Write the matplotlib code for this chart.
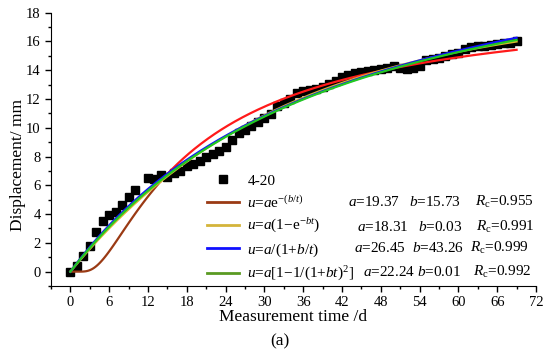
import numpy as np
import matplotlib
matplotlib.use("Agg")
import matplotlib.pyplot as plt
from matplotlib.lines import Line2D
from matplotlib.ticker import MultipleLocator

plt.rcParams['font.family'] = ['Liberation Serif', 'DejaVu Serif']
plt.rcParams['mathtext.fontset'] = 'custom'
plt.rcParams['mathtext.rm'] = 'Liberation Serif'
plt.rcParams['mathtext.it'] = 'Liberation Serif:italic'
plt.rcParams['mathtext.bf'] = 'Liberation Serif:bold'

# measured displacement, monitoring point 4-20 (no reading on day 11)
days = list(range(0, 11)) + list(range(12, 70))
disp = [0, 0.42, 1.1, 1.81, 2.78, 3.5, 3.95, 4.15, 4.65, 5.2, 5.67,
        6.5, 6.42, 6.73, 6.57, 6.85, 7.0, 7.32, 7.45, 7.72, 7.98,
        8.2, 8.42, 8.68, 9.15, 9.62, 9.88, 10.12, 10.4, 10.7, 10.98,
        11.5, 11.75, 12.0, 12.4, 12.55, 12.62, 12.7, 12.85, 13.05, 13.25,
        13.5, 13.65, 13.78, 13.85, 13.92, 14.0, 14.08, 14.15, 14.28, 14.15,
        14.12, 14.15, 14.3, 14.7, 14.8, 14.88, 15.0, 15.1, 15.2, 15.5,
        15.62, 15.68, 15.72, 15.78, 15.85, 15.88, 15.92, 16.0]

# fitted models
model_labels = [r'$u$=$a$e$^{-(b/t)}$',
                r'$u$=$a$(1−e$^{-bt}$)',
                r'$u$=$a$/(1+$b$/$t$)',
                r'$u$=$a$[1−1/(1+$bt$)$^2$]']
a_vals = [19.37, 18.31, 26.45, 22.24]
b_vals = [15.73, 0.03, 43.26, 0.01]
b_fit = [15.73, 0.03, 43.26, 0.0131]   # unrounded b used for the drawn curve
rc_vals = [0.955, 0.991, 0.999, 0.992]

line_colors = ['#ff1a1a', '#d8b830', '#1010ff', '#22c822']
handle_colors = ['#9a3a14', '#d4b43a', '#1010ff', '#5a9a22']


def model(i, t):
    a, b = a_vals[i], b_fit[i]
    if i == 0:
        return a * np.exp(-b / np.maximum(t, 1e-6))
    if i == 1:
        return a * (1 - np.exp(-b * t))
    if i == 2:
        return a * t / (t + b)
    return a * (1 - 1 / (1 + b * t) ** 2)


fig = plt.figure(figsize=(5.5, 3.59), dpi=100)
ax = fig.add_axes([0.0927, 0.2033, 0.8818, 0.7613])

ax.plot(days, disp, 's', color='black', ms=5.4, zorder=2)

tt = np.linspace(0, 69, 400)
low = tt <= 14
ax.plot(tt[low], model(0, tt[low]), color='#9a3a14', lw=1.6, zorder=3)
ax.plot(tt[~low], model(0, tt[~low]), color=line_colors[0], lw=1.6, zorder=3)
for i in (1, 2, 3):
    ax.plot(tt, model(i, tt), color=line_colors[i], lw=1.6, zorder=3)

ax.set_xlim(-3, 72)
ax.set_ylim(-1, 18)
ax.xaxis.set_major_locator(MultipleLocator(6))
ax.xaxis.set_minor_locator(MultipleLocator(3))
ax.yaxis.set_major_locator(MultipleLocator(2))
ax.yaxis.set_minor_locator(MultipleLocator(1))
ax.spines['top'].set_visible(False)
ax.spines['right'].set_visible(False)
ax.tick_params(which='major', direction='out', length=4, width=1, labelsize=10.5)
ax.tick_params(which='minor', direction='out', length=2.2, width=1)

ax.set_xlabel('Measurement time /d', fontsize=12.5, labelpad=0)
ax.set_ylabel('Displacement/ mm', fontsize=12.5)
ax.yaxis.set_label_coords(-0.052, 0.443)

handles = [Line2D([], [], marker='s', ls='none', color='black', ms=5.4)]
handles += [Line2D([], [], color=c, lw=2) for c in handle_colors]
ax.legend(handles, ['4-20'] + model_labels, loc='upper left',
          bbox_to_anchor=(207 / 550, 1 - 174 / 359), bbox_transform=fig.transFigure,
          frameon=False, fontsize=11, borderpad=0, borderaxespad=0,
          handlelength=2.1, handletextpad=0.55, labelspacing=0.41)

# fitted parameters next to each legend row
row_y = [202, 227, 248, 272]
a_x = [348, 357, 354, 363]
b_x = [409, 418, 412, 417]
r_x = [475, 476, 470, 473]
for i in range(4):
    y = 1 - row_y[i] / 359
    fig.text(a_x[i] / 550, y, r'$a$=%.2f' % a_vals[i], fontsize=11, va='center')
    fig.text(b_x[i] / 550, y, r'$b$=%.2f' % b_vals[i], fontsize=11, va='center')
    fig.text(r_x[i] / 550, y, r'$R_{\rm c}$=%.3f' % rc_vals[i], fontsize=11, va='center')

fig.text(280 / 550, 1 - 341 / 359, '(a)', fontsize=12.5, ha='center', va='center')

fig.savefig('out.png', dpi=100)
